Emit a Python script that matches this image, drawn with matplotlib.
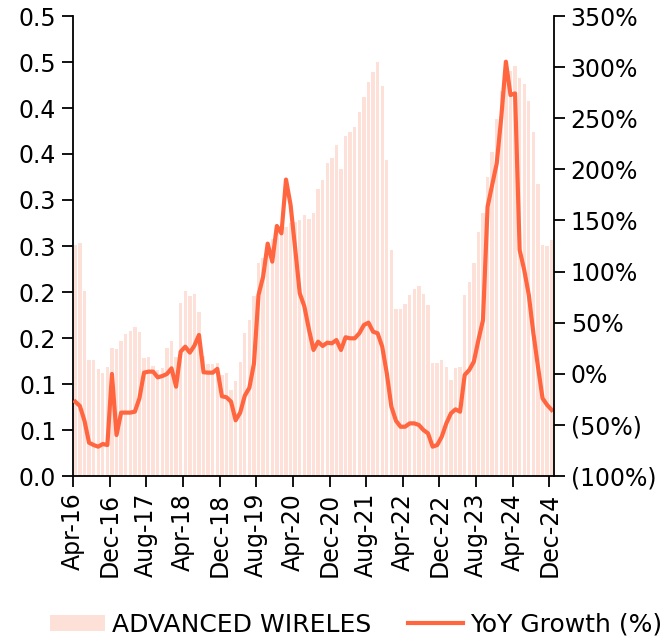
import numpy as np
import matplotlib
matplotlib.use('Agg')
import matplotlib.pyplot as plt
from matplotlib.ticker import FixedLocator, FuncFormatter

# — data (monthly, Apr-16 .. Dec-24) —
units = [0.251, 0.253, 0.201, 0.126, 0.126, 0.116, 0.112, 0.119, 0.139, 0.138,
         0.147, 0.154, 0.158, 0.162, 0.156, 0.128, 0.129, 0.120, 0.115, 0.117,
         0.139, 0.147, 0.129, 0.188, 0.201, 0.196, 0.198, 0.178, 0.130, 0.122,
         0.122, 0.123, 0.110, 0.112, 0.093, 0.103, 0.124, 0.155, 0.170, 0.196,
         0.231, 0.237, 0.254, 0.258, 0.269, 0.267, 0.271, 0.275, 0.276, 0.278,
         0.284, 0.279, 0.286, 0.312, 0.322, 0.340, 0.346, 0.360, 0.334, 0.370,
         0.374, 0.379, 0.396, 0.412, 0.428, 0.439, 0.450, 0.424, 0.343, 0.246,
         0.182, 0.182, 0.187, 0.197, 0.203, 0.206, 0.198, 0.186, 0.123, 0.123,
         0.126, 0.118, 0.104, 0.117, 0.118, 0.197, 0.211, 0.231, 0.265, 0.286,
         0.325, 0.352, 0.388, 0.419, 0.432, 0.440, 0.446, 0.433, 0.426, 0.408,
         0.374, 0.317, 0.251, 0.250, 0.256]

yoy = [-27.3, -31.5, -45.9, -67.4, -69.7, -71.3, -68.7, -69.7, -0.2, -59.9,
       -38.0, -38.0, -38.0, -37.1, -24.0, 1.1, 2.1, 2.1, -3.5, -2.2,
       -0.2, 5.3, -12.6, 21.6, 26.5, 20.7, 27.5, 38.0, 1.5, 1.1,
       1.1, 4.8, -22.0, -23.0, -27.3, -45.5, -38.0, -21.5, -13.7, 10.0,
       77.1, 95.0, 127.3, 109.7, 144.6, 137.4, 190.0, 165.0, 122.5, 78.7,
       66.0, 43.5, 23.3, 31.4, 27.2, 30.4, 29.8, 33.0, 23.3, 35.7,
       34.7, 34.7, 39.6, 47.7, 50.0, 41.2, 39.6, 26.5, 0.4, -32.2,
       -45.9, -51.8, -51.8, -48.5, -48.5, -50.1, -55.0, -58.3, -71.3, -69.7,
       -61.5, -48.5, -38.7, -34.8, -37.1, -1.2, 3.7, 11.8, 33.0, 52.6,
       163.5, 184.7, 205.9, 251.5, 305.3, 272.7, 274.3, 121.1, 101.5, 77.1,
       39.6, 7.0, -24.0, -30.5, -35.4]

tick_labels = ['Apr-16', 'Dec-16', 'Aug-17', 'Apr-18', 'Dec-18', 'Aug-19', 'Apr-20',
               'Dec-20', 'Aug-21', 'Apr-22', 'Dec-22', 'Aug-23', 'Apr-24', 'Dec-24']
left_labels = ['0.0', '0.1', '0.1', '0.2', '0.2', '0.3', '0.3', '0.4', '0.4', '0.5', '0.5']

bar_col  = '#FDE0D8'
line_col = '#FF6640'

plt.rcParams['font.family'] = ['DejaVu Sans']
plt.rcParams['font.size'] = 17

fig = plt.figure(figsize=(6.72, 6.40), dpi=100)
ax = fig.add_axes([73/672, 1 - 476/640, (554 - 73)/672, 460/640])
ax2 = ax.twinx()

x = np.arange(len(units)) + 0.5
ax.bar(x, units, width=0.74, color=bar_col, label='ADVANCED WIRELES', zorder=1)
ax2.plot(x, yoy, color=line_col, lw=3.0, solid_joinstyle='round', label='YoY Growth (%)')

ax.set_xlim(0, len(units))
ax.set_ylim(0, 0.5)
ax2.set_ylim(-100, 350)

ax.xaxis.set_major_locator(FixedLocator(np.arange(0, len(units), 8)))
ax.set_xticklabels(tick_labels, rotation=90)
ax.yaxis.set_major_locator(FixedLocator(np.linspace(0, 0.5, 11)))
ax.set_yticklabels(left_labels)
ax2.yaxis.set_major_locator(FixedLocator(np.arange(-100, 351, 50)))
ax2.yaxis.set_major_formatter(FuncFormatter(
    lambda v, p: f'({abs(v):.0f}%)' if v < 0 else f'{v:.0f}%'))

for a in (ax, ax2):
    a.spines['top'].set_visible(False)
    for s in a.spines.values():
        s.set_linewidth(1.3)
    a.tick_params(length=8, width=1.3, pad=4)
ax.spines['right'].set_visible(False)
ax2.spines['left'].set_visible(False)
ax2.spines['bottom'].set_visible(False)

h1, l1 = ax.get_legend_handles_labels()
h2, l2 = ax2.get_legend_handles_labels()
fig.legend(h1 + h2, l1 + l2, loc='center', bbox_to_anchor=(0.53, 0.024), ncol=2,
           frameon=False, handlelength=2.2, handleheight=0.65, columnspacing=1.5,
           handletextpad=0.25, fontsize=18, borderaxespad=0, borderpad=0)

fig.savefig('out.png', dpi=100)
